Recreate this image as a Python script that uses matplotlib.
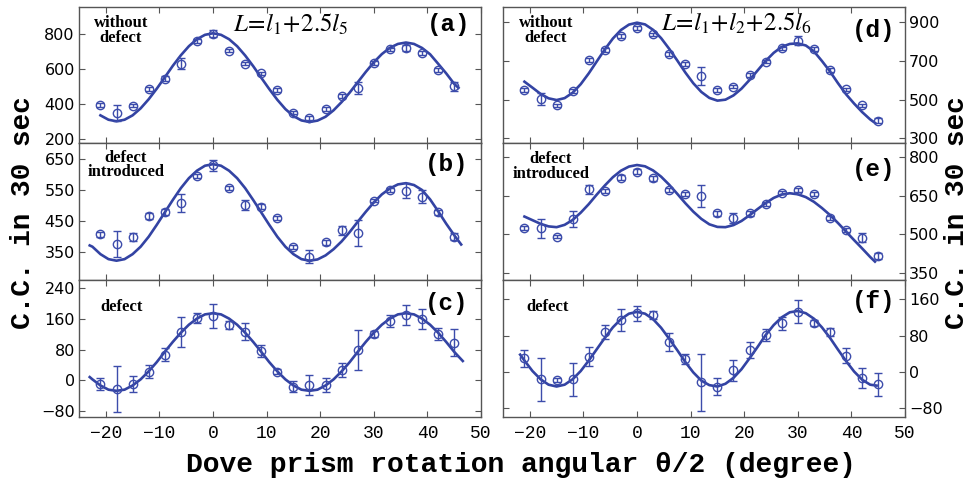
import matplotlib
matplotlib.use("Agg")
import matplotlib.pyplot as plt

plt.rcParams['mathtext.fontset'] = 'stix'

# ---------------- data ----------------
angles = [-21, -18, -15, -12, -9, -6, -3, 0, 3, 6, 9, 12, 15, 18, 21, 24, 27, 30, 33, 36, 39, 42, 45]

a_y = [395, 350, 390, 485, 545, 630, 760, 800, 705, 630, 575, 480, 350, 320, 370, 445, 490, 635, 712, 720, 692, 595, 500]
a_err = [10, 45, 10, 12, 12, 30, 10, 20, 10, 10, 10, 10, 10, 10, 10, 12, 35, 12, 10, 15, 10, 10, 28]
b_y = [408, 376, 400, 467, 479, 507, 595, 629, 556, 502, 497, 461, 368, 336, 382, 420, 413, 516, 550, 548, 529, 479, 400]
b_err = [8, 42, 13, 10, 10, 29, 8, 17, 6, 15, 8, 6, 6, 22, 8, 15, 42, 6, 6, 23, 21, 8, 12]
c_y = [-10, -24, -10, 22, 66, 125, 162, 168, 144, 127, 77, 22, -17, -13, -13, 26, 79, 120, 155, 170, 160, 120, 98]
c_err = [16, 60, 22, 17, 17, 39, 13, 32, 11, 23, 16, 6, 15, 27, 18, 19, 53, 8, 16, 27, 25, 16, 36]
d_y = [550, 503, 472, 547, 705, 757, 829, 872, 838, 734, 684, 622, 550, 567, 628, 697, 766, 805, 762, 653, 553, 472, 391]
d_err = [10, 30, 8, 10, 8, 10, 12, 10, 8, 10, 10, 47, 8, 8, 10, 10, 8, 24, 8, 10, 8, 8, 12]
e_y = [524, 524, 491, 560, 675, 669, 719, 742, 716, 671, 656, 648, 581, 562, 581, 617, 661, 671, 656, 565, 517, 488, 417]
e_err = [8, 36, 6, 32, 17, 8, 10, 10, 8, 8, 6, 42, 8, 19, 8, 8, 6, 8, 6, 8, 8, 19, 10]
f_y = [30, -16, -18, -16, 33, 88, 114, 129, 125, 66, 28, -23, -32, 4, 48, 81, 107, 132, 108, 87, 36, -14, -27]
f_err = [19, 47, 5, 36, 21, 15, 25, 16, 8, 20, 11, 62, 18, 23, 18, 13, 14, 25, 6, 9, 17, 22, 25]

# fitted curves
grid = [-21, -19.5, -18, -16.5, -15, -13.5, -12, -10.5, -9, -7.5, -6, -4.5, -3, -1.5,
        0, 1.5, 3, 4.5, 6, 7.5, 9, 10.5, 12, 13.5, 15, 16.5, 18, 19.5, 21, 22.5,
        24, 25.5, 27, 28.5, 30, 31.5, 33, 34.5, 36, 37.5, 39, 40.5, 42, 43.5]

a_fit_x = grid + [45, 45.8]
a_fit_y = [335, 310, 301, 310, 335, 375, 427, 487, 552, 618, 678, 730, 770, 795,
           804, 795, 770, 730, 677, 616, 550, 485, 424, 371, 331, 306, 297, 305, 327, 364,
           411, 465, 524, 583, 638, 685, 721, 743, 751, 743, 720, 684, 630, 575, 515, 492]
b_fit_x = [-23, -22.5] + grid + [45, 46.3]
b_fit_y = [372, 368, 344, 328, 323, 328, 344, 368, 400, 438, 478, 518, 556, 588, 612, 628,
           633, 628, 612, 588, 556, 518, 478, 438, 400, 368, 344, 328, 323, 327, 340, 360,
           385, 415, 448, 480, 510, 536, 555, 568, 572, 566, 550, 520, 482, 442, 405, 375]
c_fit_x = [-23, -22.5] + grid + [45, 46.6]
c_fit_y = [8, 2, -14, -25, -28, -25, -14, 2, 23, 47, 74, 100, 124, 145, 161, 172,
           175, 172, 161, 145, 124, 100, 74, 47, 23, 2, -14, -25, -28, -25, -14, 2,
           23, 47, 74, 100, 124, 145, 161, 172, 175, 172, 161, 145, 124, 100, 74, 50]
d_fit_x = grid + [44.4]
d_fit_y = [593, 562, 530, 507, 498, 508, 536, 580, 636, 698, 760, 816, 860, 888,
           898, 889, 861, 818, 763, 703, 641, 585, 540, 509, 495, 500, 522, 557, 602, 651,
           700, 742, 773, 788, 791, 780, 750, 700, 646, 585, 528, 480, 436, 398, 380]
e_fit_x = grid + [44.4]
e_fit_y = [569, 555, 541, 531, 528, 537, 556, 584, 617, 654, 689, 721, 746, 762,
           768, 763, 747, 723, 692, 657, 621, 588, 560, 539, 529, 528, 536, 552, 574, 598,
           621, 641, 654, 659, 655, 644, 626, 602, 575, 544, 511, 478, 446, 413, 395]
f_fit_x = [-21.8] + grid + [44.7]
f_fit_y = [38, 25, 2, -16, -28, -32, -28, -16, 2, 25, 50, 75, 98, 116, 128,
           132, 128, 116, 97, 73, 48, 22, -1, -19, -29, -32, -26, -13, 6, 30, 55,
           81, 103, 120, 131, 134, 129, 117, 98, 75, 49, 24, 1, -17, -28, -30]

x_ticks = [-20, -10, 0, 10, 20, 30, 40, 50]
a_ticks = [200, 400, 600, 800]
b_ticks = [350, 450, 550, 650]
c_ticks = [-80, 0, 80, 160, 240]
d_ticks = [300, 500, 700, 900]
e_ticks = [350, 500, 650, 800]
f_ticks = [-80, 0, 80, 160]

panel_labels = ['(a)', '(b)', '(c)', '(d)', '(e)', '(f)']
notes = ['without\ndefect', 'defect\nintroduced', 'defect',
         'without\ndefect', 'defect\nintroduced', 'defect']
titles = [r'$L\!=\!l_1\!+\!2.5l_5$', r'$L\!=\!l_1\!+\!l_2\!+\!2.5l_6$']
y_label = 'C.C. in 30 sec'
x_label = 'Dove prism rotation angular \u03b8/2 (degree)'

# ---------------- style ----------------
pt_color = '#3c4cab'
line_color = '#3343a3'
spine_color = '#555555'

fig = plt.figure(figsize=(9.7, 4.79), dpi=100)
W, H = 970, 479
col_left = [79, 503]
col_w = 402
row_top = [7, 143, 280]
row_h = [136, 137, 137]

panels = [
    (0, 0, a_y, a_err, a_fit_x, a_fit_y, a_ticks, (177, 954)),
    (0, 1, b_y, b_err, b_fit_x, b_fit_y, b_ticks, (261, 701)),
    (0, 2, c_y, c_err, c_fit_x, c_fit_y, c_ticks, (-96.5, 262)),
    (1, 0, d_y, d_err, d_fit_x, d_fit_y, d_ticks, (276, 979)),
    (1, 1, e_y, e_err, e_fit_x, e_fit_y, e_ticks, (324, 853)),
    (1, 2, f_y, f_err, f_fit_x, f_fit_y, f_ticks, (-99, 202)),
]

label_pos = [(0.973, 0.875), (0.968, 0.84), (0.968, 0.83),
             (0.975, 0.825), (0.975, 0.81), (0.975, 0.84)]
note_pos = [(0.104, 0.83), (0.117, 0.84), (0.107, 0.80),
            (0.107, 0.826), (0.119, 0.83), (0.11, 0.80)]

for i, (col, row, yv, ye, fx, fy, yt, ylim) in enumerate(panels):
    left = col_left[col] / W
    bottom = 1 - (row_top[row] + row_h[row]) / H
    ax = fig.add_axes([left, bottom, col_w / W, row_h[row] / H])
    ax.plot(fx, fy, color=line_color, lw=1.9, zorder=2, solid_joinstyle='round')
    ax.errorbar(angles, yv, yerr=ye, fmt='o', ms=6, mfc='none', mec=pt_color,
                mew=1.0, ecolor=pt_color, elinewidth=1.0, capsize=3, capthick=1.0,
                zorder=3)
    ax.set_xlim(-25, 50)
    ax.set_ylim(*ylim)
    ax.set_xticks(x_ticks)
    ax.set_yticks(yt)
    for s in ax.spines.values():
        s.set_color(spine_color)
        s.set_linewidth(1.0)
    ax.tick_params(direction='in', length=4, width=0.8, color=spine_color,
                   top=True, right=True, left=True, bottom=True,
                   labelbottom=(row == 2),
                   labelleft=(col == 0), labelright=(col == 1))
    for lab in ax.get_yticklabels():
        lab.set_fontfamily('DejaVu Sans')
        lab.set_fontsize(11.5)
    for lab in ax.get_xticklabels():
        lab.set_fontfamily('Liberation Mono')
        lab.set_fontsize(13)
    ax.tick_params(axis='x', pad=6)
    ax.tick_params(axis='y', pad=3)
    lx, ly = label_pos[i]
    ax.text(lx, ly, panel_labels[i], transform=ax.transAxes, ha='right', va='center',
            fontfamily='Liberation Mono', fontweight='bold', fontsize=17.5)
    nx, ny = note_pos[i]
    ax.text(nx, ny, notes[i], transform=ax.transAxes, ha='center', va='center',
            fontfamily='Liberation Serif', fontweight='bold', fontsize=12,
            linespacing=0.9)
    if row == 0:
        tx, ty = (0.527, 0.87) if col == 0 else (0.58, 0.88)
        ax.text(tx, ty, titles[col], transform=ax.transAxes, ha='center', va='center',
                fontsize=18)

fig.text(23 / W, 1 - 213 / H, y_label, rotation=90, ha='center', va='center',
         fontfamily='Liberation Mono', fontweight='bold', fontsize=20)
fig.text(957 / W, 1 - 213 / H, y_label, rotation=90, ha='center', va='center',
         fontfamily='Liberation Mono', fontweight='bold', fontsize=20)
fig.text(521 / W, 1 - 465 / H, x_label, ha='center', va='center',
         fontfamily='Liberation Mono', fontweight='bold', fontsize=20.2)

fig.savefig('out.png', dpi=100)
